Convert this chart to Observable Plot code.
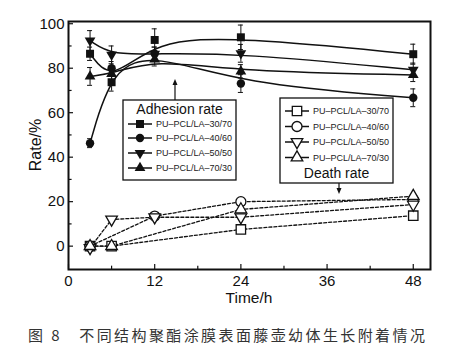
<!DOCTYPE html>
<html><head><meta charset="utf-8">
<script src="https://cdn.jsdelivr.net/npm/d3@7"></script>
<script src="https://cdn.jsdelivr.net/npm/@observablehq/plot@0.6"></script>
<style>
body{margin:0;background:#fff;font-family:"Liberation Sans",Arial,sans-serif;}
#wrap{position:relative;width:462px;height:352px;}
#cap{position:absolute;left:28px;top:325px;font-family:"Noto Sans CJK SC",sans-serif;font-size:15px;line-height:20px;letter-spacing:2.4px;color:#333;white-space:pre;}
</style></head>
<body><div id="wrap"><div id="chart"></div><div id="cap">图 8　不同结构聚酯涂膜表面藤壶幼体生长附着情况</div></div>
<script>
const times = [3, 6, 12, 24, 48];
const seriesNames = ["PU–PCL/LA–30/70", "PU–PCL/LA–40/60", "PU–PCL/LA–50/50", "PU–PCL/LA–70/30"];
// Adhesion rate (%) and error
const adhesion3070 = [86.5, 73.7, 92.7, 93.9, 86.3];
const adhesion4060 = [46.3, 80.0, 86.5, 73.1, 66.7];
const adhesion5050 = [92.4, 86.0, 86.5, 86.7, 79.3];
const adhesion7030 = [76.3, 77.5, 84.0, 78.6, 77.0];
const adhErr3070 = [3, 4, 5, 5.5, 4.5];
const adhErr4060 = [2, 3, 3, 4, 4];
const adhErr5050 = [4.5, 4, 3, 4, 3];
const adhErr7030 = [4, 3, 3, 3, 3];
// Death rate (%)
const death3070 = [0, 0, null, 7.5, 13.7];
const death4060 = [0, null, 13.5, 20, 21];
const death5050 = [-0.8, 12, 13, 13, 18.7];
const death7030 = [0, 0, null, 16.5, 22.5];
const xTicks = [0, 12, 24, 36, 48];
const xMinor = [6, 18, 30, 42];
const yTicks = [0, 20, 40, 60, 80, 100];
const yMinor = [10, 30, 50, 70, 90];

const triangleDown = {draw(ctx, size){const y=-Math.sqrt(size/(Math.sqrt(3)*3));ctx.moveTo(0,-y*2);ctx.lineTo(-Math.sqrt(3)*y,y);ctx.lineTo(Math.sqrt(3)*y,y);ctx.closePath();}};
const symbols = ["square", "circle", triangleDown, "triangle"];
const rFill = [4.5, 4.2, 4, 4];
const rOpen = [5.3, 5, 4.3, 4.3];

const adhVals = [adhesion3070, adhesion4060, adhesion5050, adhesion7030];
const adhErrs = [adhErr3070, adhErr4060, adhErr5050, adhErr7030];
const deathVals = [death3070, death4060, death5050, death7030];

const adh = [];
adhVals.forEach((arr, i) => arr.forEach((v, j) => adh.push({s: i, t: times[j], v, e: adhErrs[i][j]})));
const death = [];
deathVals.forEach((arr, i) => arr.forEach((v, j) => { if (v != null) death.push({s: i, t: times[j], v}); }));

const ink = "#111";
const marks = [
  Plot.line(death, {x: "t", y: "v", z: "s", stroke: ink, strokeWidth: 1.3, strokeDasharray: "3,2"}),
  ...[0,1,2,3].map(i => Plot.dot(death.filter(d => d.s === i), {x: "t", y: "v", symbol: symbols[i], r: rOpen[i], fill: "white", stroke: ink, strokeWidth: 1.3})),
  Plot.line(adh, {x: "t", y: "v", z: "s", curve: "basis", stroke: ink, strokeWidth: 1.5}),
  Plot.ruleX(adh, {x: "t", y1: d => d.v - d.e, y2: d => d.v + d.e, stroke: ink, strokeWidth: 1}),
  Plot.ruleY(adh, {y: d => d.v + d.e, x1: d => d.t - 0.35, x2: d => d.t + 0.35, stroke: ink, strokeWidth: 1}),
  Plot.ruleY(adh, {y: d => d.v - d.e, x1: d => d.t - 0.35, x2: d => d.t + 0.35, stroke: ink, strokeWidth: 1}),
  ...[0,1,2,3].map(i => Plot.dot(adh.filter(d => d.s === i), {x: "t", y: "v", symbol: symbols[i], r: rFill[i], fill: ink})),
  Plot.ruleY(yTicks, {y: d => d, x1: 0, x2: 0.7, stroke: ink, strokeWidth: 1.2}),
  Plot.ruleY(yMinor, {y: d => d, x1: 0, x2: 0.5, stroke: ink, strokeWidth: 1.2}),
  Plot.ruleX(xTicks, {x: d => d, y1: -10.5, y2: -8.3, stroke: ink, strokeWidth: 1.2}),
  Plot.ruleX(xMinor, {x: d => d, y1: -10.5, y2: -9.0, stroke: ink, strokeWidth: 1.2}),
  Plot.axisY({ticks: yTicks, tickSize: 0, tickPadding: 4, label: null, fontSize: 15}),
  Plot.axisX({ticks: xTicks, tickSize: 0, tickPadding: 6, label: null, fontSize: 15}),
  Plot.frame({stroke: ink, strokeWidth: 2})
];

const chart = Plot.plot({
  width: 462, height: 315,
  marginLeft: 68, marginRight: 32, marginTop: 21, marginBottom: 46,
  x: {domain: [0, 50.4]},
  y: {domain: [-10.5, 101]},
  style: {fontFamily: '"Liberation Sans", Arial, sans-serif', fontSize: "15px", color: ink, background: "white"},
  marks
});
document.getElementById("chart").appendChild(chart);

// Axis titles and legends
const svg = d3.select(chart);
svg.append("text").attr("x", 249).attr("y", 303).attr("text-anchor", "middle")
  .attr("font-size", 15.5).attr("fill", ink).text("Time/h");
svg.append("text").attr("transform", "translate(41,145) rotate(-90)").attr("text-anchor", "middle")
  .attr("font-size", 16).attr("fill", ink).text("Rate/%");

function arrow(x, y1, y2) {
  svg.append("line").attr("x1", x).attr("x2", x).attr("y1", y1).attr("y2", y2 + (y2 < y1 ? 5 : -5)).attr("stroke", ink).attr("stroke-width", 1.2);
  const d = y2 < y1 ? 1 : -1;
  svg.append("path").attr("d", `M${x},${y2}L${x-2.5},${y2 + 6*d}L${x+2.5},${y2 + 6*d}Z`).attr("fill", ink);
}
function legend(x0, y0, w, h, rows, titleY, title, filled, rs) {
  svg.append("rect").attr("x", x0).attr("y", y0).attr("width", w).attr("height", h)
    .attr("fill", "white").attr("stroke", ink).attr("stroke-width", 1.3);
  svg.append("text").attr("x", x0 + w/2).attr("y", titleY).attr("text-anchor", "middle")
    .attr("font-size", 14).attr("fill", ink).text(title);
  rows.forEach((ry, i) => {
    svg.append("line").attr("x1", x0 + 5).attr("x2", x0 + 29).attr("y1", ry).attr("y2", ry).attr("stroke", ink).attr("stroke-width", 1.5);
    svg.append("path").attr("transform", `translate(${x0 + 17},${ry})`)
      .attr("d", d3.symbol().type(typeof symbols[i] === "string" ? (symbols[i] === "square" ? d3.symbolSquare : symbols[i] === "circle" ? d3.symbolCircle : d3.symbolTriangle) : symbols[i]).size(Math.PI * rs[i] * rs[i])())
      .attr("fill", filled ? ink : "white").attr("stroke", ink).attr("stroke-width", filled ? 0 : 1.3);
    svg.append("text").attr("x", x0 + 33).attr("y", ry).attr("dy", "0.35em").attr("text-anchor", "start")
      .attr("font-size", 9).attr("fill", "#222").text(seriesNames[i]);
  });
}
arrow(175, 100, 79);
legend(123, 100, 113, 80, [124, 138, 153, 168], 114, "Adhesion rate", true, rFill);
arrow(339, 183, 194);
legend(280, 98, 113, 85, [111, 126.5, 142, 157.5], 178, "Death rate", false, rOpen);
</script>
</body></html>
